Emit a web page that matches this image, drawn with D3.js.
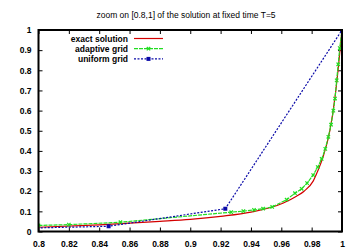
<!DOCTYPE html>
<html>
<head>
<meta charset="utf-8">
<script src="https://cdn.jsdelivr.net/npm/d3@7"></script>
<style>
body{margin:0;background:#fff;}
text{font-family:"Liberation Sans",Arial,sans-serif;fill:#000;}
.tick line{stroke:#000;stroke-width:1;}
</style>
</head>
<body>
<div id="graph"></div>
<script>
// values
var exactX = [0.8, 0.84, 0.88, 0.9, 0.92, 0.94, 0.961, 0.97, 0.975, 0.981, 0.984, 0.9875, 0.992, 0.9954, 0.9974, 1.0];
var exactY = [0.021, 0.033, 0.05, 0.06, 0.075, 0.096, 0.14, 0.175, 0.20, 0.25, 0.30, 0.37, 0.50, 0.667, 0.80, 1.0];

var adaptX = [0.8, 0.82, 0.854, 0.927, 0.935, 0.942, 0.948, 0.954, 0.9635, 0.969, 0.9734, 0.977, 0.981, 0.984, 0.9866, 0.989, 0.991, 0.9928, 0.9943, 0.9954, 0.9965, 0.9975, 0.9985, 1.0];
var adaptY = [0.030, 0.034, 0.046, 0.096, 0.101, 0.107, 0.113, 0.122, 0.158, 0.19, 0.212, 0.24, 0.28, 0.32, 0.36, 0.41, 0.47, 0.53, 0.60, 0.66, 0.75, 0.83, 0.91, 1.0];

var unifX = [0.7692, 0.8462, 0.9231, 1.0];
var unifY = [0.0125, 0.026, 0.113, 1.0];

var xTicks = [0.8, 0.82, 0.84, 0.86, 0.88, 0.9, 0.92, 0.94, 0.96, 0.98, 1];
var yTicks = [0, 0.1, 0.2, 0.3, 0.4, 0.5, 0.6, 0.7, 0.8, 0.9, 1];
var seriesNames = ["exact solution", "adaptive grid", "uniform grid"];
var title = "zoom on [0.8,1] of the solution at fixed time T=5";

var margin = {top: 30, right: 18, bottom: 20.5, left: 38.5};
var W = 360, H = 252;
var w = W - margin.left - margin.right; // plot width
var h = H - margin.top - margin.bottom;

var xScale = d3.scaleLinear().domain([0.8, 1]).range([0, w]);
var yScale = d3.scaleLinear().domain([0, 1]).range([h, 0]);

var svgRoot = d3.select('#graph').append('svg')
    .attr('width', W).attr('height', H);
var svg = svgRoot.append('g')
    .attr('transform', 'translate(' + margin.left + ',' + margin.top + ')');

svgRoot.append('text')
    .attr('x', 186).attr('y', 18)
    .attr('text-anchor', 'middle')
    .style('font-size', '8.5px')
    .text(title);

svg.append('clipPath').attr('id', 'clip')
    .append('rect').attr('width', w).attr('height', h);

// axes, ticks pointing inward on all four sides
var fmt = function(d){ return String(d); };
svg.append('g').attr('transform', 'translate(0,' + h + ')')
    .call(d3.axisBottom(xScale).tickValues(xTicks).tickFormat(fmt).tickSize(-4).tickPadding(9));
svg.append('g')
    .call(d3.axisLeft(yScale).tickValues(yTicks).tickFormat(fmt).tickSize(-4).tickPadding(7));
svg.append('g').attr('transform', 'translate(' + w + ',0)')
    .call(d3.axisRight(yScale).tickValues(yTicks).tickFormat('').tickSize(-4));
svg.append('g')
    .call(d3.axisTop(xScale).tickValues(xTicks).tickFormat('').tickSize(-4));
svg.selectAll('.domain').remove();
svg.selectAll('.tick text').style('font-size', '8.5px').style('font-weight', 'bold');

var data2line = d3.line()
    .x(function(d){ return xScale(d.x); })
    .y(function(d){ return yScale(d.y); });
var smoothLine = d3.line()
    .curve(d3.curveMonotoneX)
    .x(function(d){ return xScale(d.x); })
    .y(function(d){ return yScale(d.y); });

function zip(xs, ys){
    return xs.map(function(x, i){ return {x: x, y: ys[i]}; });
}

var plot = svg.append('g').attr('clip-path', 'url(#clip)');

var series = [
    {name: seriesNames[0], data: zip(exactX, exactY), color: '#d40000', dash: null, marker: null, line: smoothLine},
    {name: seriesNames[1], data: zip(adaptX, adaptY), color: '#22dd22', dash: '4,1', marker: 'x', line: data2line},
    {name: seriesNames[2], data: zip(unifX, unifY), color: '#0a0aa8', dash: '2,1.5', marker: 'sq', line: data2line}
];

function drawMarker(g, type, cx, cy, color){
    var r = 1.7;
    if(type == 'x'){
        g.append('path')
            .attr('d', 'M' + (cx-r) + ',' + (cy-r) + 'L' + (cx+r) + ',' + (cy+r) +
                       'M' + (cx-r) + ',' + (cy+r) + 'L' + (cx+r) + ',' + (cy-r))
            .attr('stroke', color).attr('stroke-width', 1.2).attr('fill', 'none');
    } else if(type == 'sq'){
        g.append('rect')
            .attr('x', cx-2).attr('y', cy-2).attr('width', 4).attr('height', 4)
            .attr('fill', color);
    }
}

series.forEach(function(s){
    plot.append('path')
        .attr('d', s.line(s.data))
        .attr('fill', 'none')
        .attr('stroke', s.color)
        .attr('stroke-width', 1.2)
        .attr('stroke-dasharray', s.dash);
    if(s.marker){
        s.data.forEach(function(d){
            drawMarker(plot, s.marker, xScale(d.x), yScale(d.y), s.color);
        });
    }
});

// frame
svg.append('rect')
    .attr('width', w).attr('height', h)
    .attr('fill', 'none').attr('stroke', '#000').attr('stroke-width', 2);

// legend
var legend = svgRoot.append('g').attr('class', 'legend');
series.forEach(function(s, i){
    var y = 38.5 + i * 10.2;
    legend.append('text')
        .attr('x', 128).attr('y', y + 3)
        .attr('text-anchor', 'end')
        .style('font-size', '8.5px').style('font-weight', 'bold')
        .text(s.name);
    legend.append('line')
        .attr('x1', 134).attr('x2', 163).attr('y1', y).attr('y2', y)
        .attr('stroke', s.color).attr('stroke-width', 1.2)
        .attr('stroke-dasharray', s.dash);
    if(s.marker) drawMarker(legend, s.marker, 148.5, y, s.color);
});
</script>
</body>
</html>
